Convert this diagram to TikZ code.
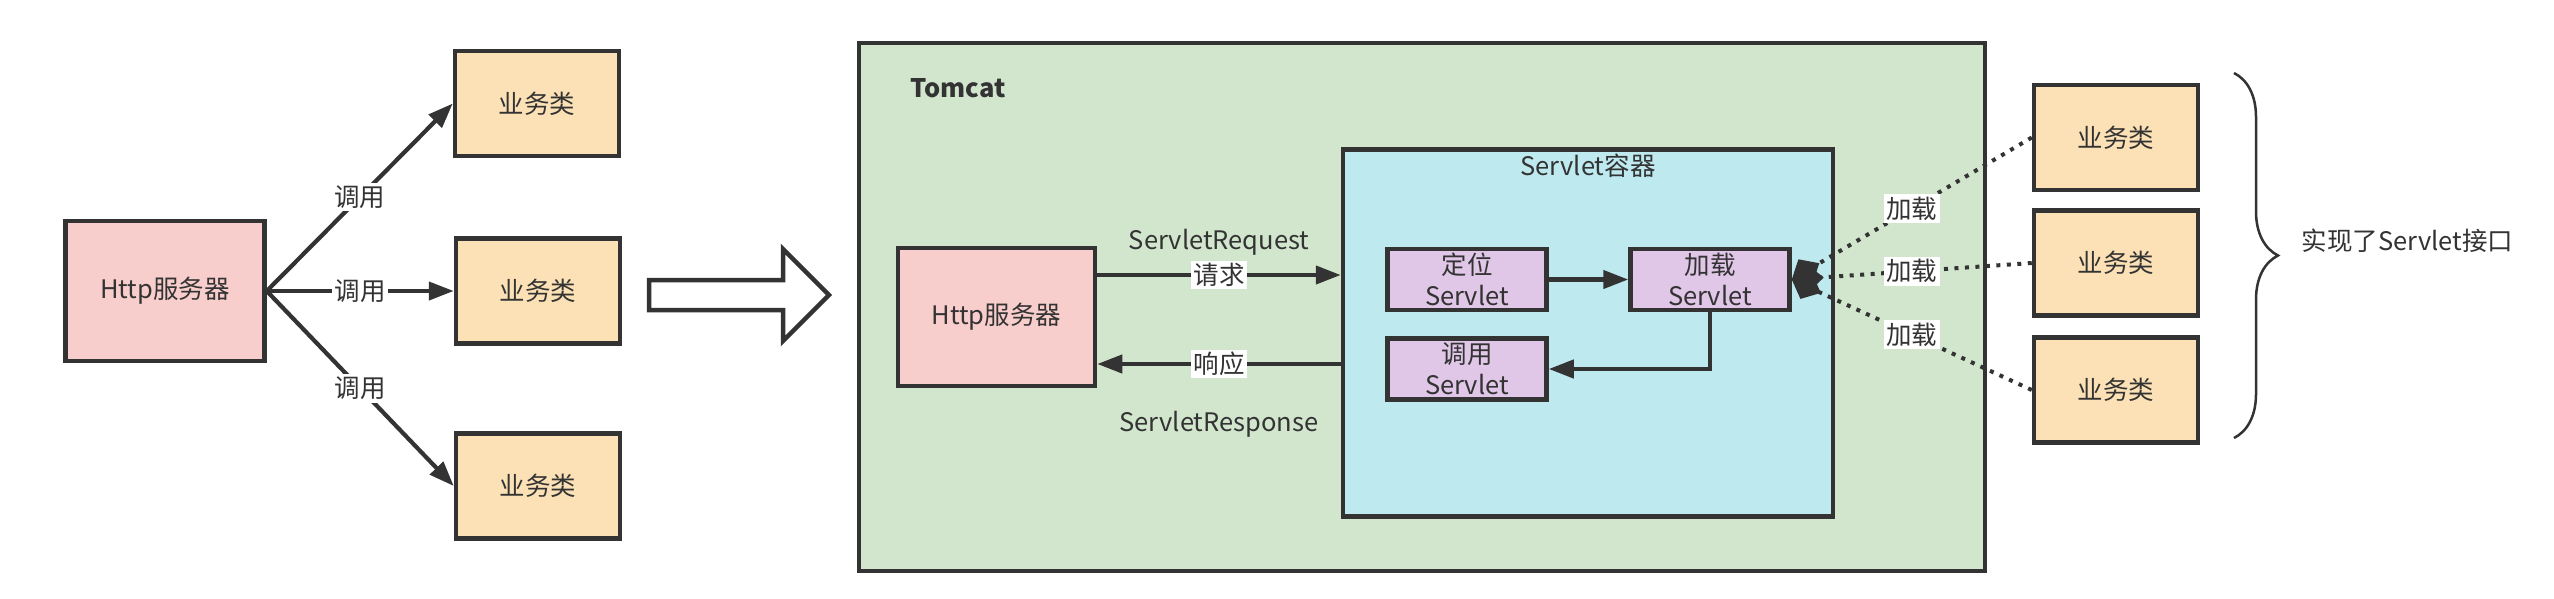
\documentclass[tikz,border=0pt]{standalone}
\usepackage{fontspec}
\setmainfont{Noto Sans CJK SC}
\usetikzlibrary{arrows.meta,decorations.pathreplacing}

\definecolor{linegray}{HTML}{333333}
\definecolor{httppink}{HTML}{F8CECC}
\definecolor{bizorange}{HTML}{FBE1B5}
\definecolor{tomcatgreen}{HTML}{D2E6CE}
\definecolor{contblue}{HTML}{BEE9EF}
\definecolor{servpurple}{HTML}{E0C6E7}

\begin{document}
\begin{tikzpicture}[x=1pt, y=-1pt,
	font=\fontsize{25.5}{31}\selectfont, text=linegray,
	box/.style={draw=linegray, line width=4.5pt, inner sep=0pt, align=center},
	lbl/.style={fill=white, inner sep=2.5pt},
	callarrow/.style={draw=linegray, line width=4.2pt, -{Triangle[length=25pt,width=18pt]}},
	loadline/.style={draw=linegray, line width=4pt, dash pattern=on 4pt off 6.5pt,
		-{Diamond[length=32pt,width=28pt]}}
]

% Just a workaround to keep the page as large as the screenshot
\fill[white] (0,0) rectangle (2554,598);

% Boxes
\newcommand{\bizbox}[2]{
	\node[box, fill=bizorange, minimum width=164pt, minimum height=105pt]
		(#1) at (#2) {业务类}
	;
}
\newcommand{\servbox}[3]{
	\node[box, fill=servpurple, minimum width=159pt, minimum height=61pt]
		(#1) at (#2) {#3}
	;
}

% Left side: the plain Http server
\node[box, fill=httppink, minimum width=199pt, minimum height=140pt]
	(http1) at (165,291) {Http服务器};
\bizbox  {biz1}  {537,103.5}
\bizbox  {biz2}  {538,291}
\bizbox  {biz3}  {538,486}

\draw[callarrow] (http1.east) -- node[lbl] {调用} (biz1.west);
\draw[callarrow] (http1.east) -- node[lbl] {调用} (biz2.west);
\draw[callarrow] (http1.east) -- node[lbl] {调用} (biz3.west);

% Hollow arrow
\draw[draw=linegray, fill=white, line width=4.5pt, line join=miter]
	(649,280) -- (783,280) -- (783,249) -- (829,295) -- (783,341)
	-- (783,310) -- (649,310) -- cycle;

% Tomcat
\node[box, fill=tomcatgreen, minimum width=1126pt, minimum height=528pt]
	(tomcat) at (1422,307) {};
\node[anchor=west, font=\fontsize{25.5}{31}\selectfont\bfseries]
	(tomcatlbl) at (907,88) {Tomcat};

\node[box, fill=contblue, minimum width=490pt, minimum height=367pt]
	(cont) at (1588,333) {};
\node (contlbl) at (1588,166) {Servlet容器};

\node[box, fill=httppink, minimum width=197pt, minimum height=138pt]
	(http2) at (996.5,317) {Http服务器};

\servbox  {locate}  {1467,279.5}  {定位\\Servlet}
\servbox  {load}    {1710,279.5}  {加载\\Servlet}
\servbox  {call}    {1467,369}    {调用\\Servlet}

% Arrows
\draw[callarrow] ([yshift=42pt]http2.east) -- node[lbl] {请求}
	node[yshift=33pt] {ServletRequest} ([yshift=42pt]http2.east -| cont.west);
\draw[callarrow] ([yshift=-47pt]http2.east -| cont.west) -- node[lbl] {响应}
	node[yshift=-60pt] {ServletResponse} ([yshift=-47pt]http2.east);
\draw[callarrow] (locate.east) -- (load.west);
\draw[callarrow] (load.south) |- (call.east);

% Right side: classes loaded by the container
\bizbox  {rbiz1}  {2116,137.5}
\bizbox  {rbiz2}  {2116,263}
\bizbox  {rbiz3}  {2116,390}

\draw[loadline] (rbiz1.west) -- node[lbl] {加载} (load.east);
\draw[loadline] (rbiz2.west) -- node[lbl] {加载} (load.east);
\draw[loadline] (rbiz3.west) -- node[lbl] {加载} (load.east);

\draw[draw=linegray, line width=2.5pt, decorate, decoration={brace, amplitude=44pt}]
	(2234,73) -- (2234,438);
\node[anchor=west] (implnote) at (2298,241) {实现了Servlet接口};
\end{tikzpicture}
\end{document}
